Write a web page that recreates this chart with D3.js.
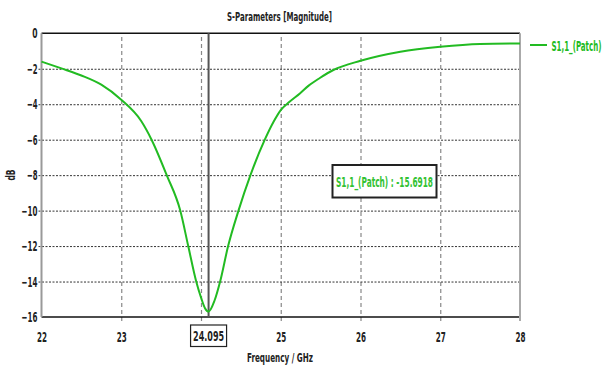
<!DOCTYPE html>
<html>
<head>
<meta charset="utf-8">
<script src="https://cdn.jsdelivr.net/npm/d3@7"></script>
<style>
  body { margin: 0; background: #fff; }
  svg { display: block; }
  text { font-family: "Liberation Sans Narrow", "DejaVu Sans Condensed", "Arial Narrow", sans-serif; }
</style>
</head>
<body>
<svg width="605" height="370"></svg>
<script>
// S11 of the patch (GHz, dB)
var freq = [22.0, 22.25, 22.5, 22.75, 23.0, 23.25, 23.38, 23.57, 23.74, 23.84, 23.94, 24.0, 24.05, 24.095,
            24.17, 24.24, 24.34, 24.47, 24.62, 24.80, 24.91, 25.0, 25.11, 25.24, 25.35, 25.49, 25.66, 26.0,
            26.5, 27.0, 27.5, 28.0];
var s11 = [-1.6, -1.98, -2.38, -2.9, -3.75, -4.95, -6.0, -8.0, -10.0, -12.0, -14.0, -14.9, -15.5, -15.69,
           -15.07, -14.0, -12.0, -10.0, -8.0, -6.0, -4.99, -4.33, -3.86, -3.39, -2.95, -2.52, -2.07, -1.55,
           -1.04, -0.76, -0.6, -0.57];
var xTicks = [22, 23, 25, 26, 27, 28];
var xGrid = [23, 24, 25, 26, 27];
var yTicks = [0, -2, -4, -6, -8, -10, -12, -14, -16];
var yGrid = [-2, -4, -6, -8, -10, -12, -14];
var markerF = 24.095;
var markerV = -15.6918;
var seriesName = "S1,1_(Patch)";

var green = "#22bb22";

var svg = d3.select("svg"),
    pLeft = 41.5, pRight = 520, pTop = 33.3, pBottom = 317;

var x = d3.scaleLinear().domain([22, 28]).range([pLeft, pRight]);
var y = d3.scaleLinear().domain([-16, 0]).range([pBottom, pTop]);

// vertical grid (dashed), running a little under the bottom axis
var gx = svg.append("g")
    .attr("transform", "translate(0," + (pBottom + 4) + ")")
    .call(d3.axisBottom(x).tickValues(xGrid).tickSize(-(pBottom - pTop + 4)).tickFormat(""));
gx.select(".domain").remove();
gx.selectAll("line").attr("stroke", "#888").attr("stroke-width", 1.2).attr("stroke-dasharray", "4,3");

// horizontal grid (dotted)
var gy = svg.append("g")
    .attr("transform", "translate(" + (pLeft - 3) + ",0)")
    .call(d3.axisLeft(y).tickValues(yGrid).tickSize(-(pRight - pLeft + 3)).tickFormat(""));
gy.select(".domain").remove();
gy.selectAll("line").attr("stroke", "#333").attr("stroke-width", 1).attr("stroke-dasharray", "2,1.5");

// frame
svg.append("line").attr("x1", pLeft).attr("x2", pRight).attr("y1", pTop).attr("y2", pTop)
    .attr("stroke", "#111").attr("stroke-width", 1.5);
svg.append("line").attr("x1", pLeft).attr("x2", pRight).attr("y1", pBottom).attr("y2", pBottom)
    .attr("stroke", "#111").attr("stroke-width", 1.5);
svg.append("line").attr("x1", pLeft).attr("x2", pLeft).attr("y1", pTop).attr("y2", pBottom)
    .attr("stroke", "#999").attr("stroke-width", 2);
svg.append("line").attr("x1", pRight).attr("x2", pRight).attr("y1", pTop).attr("y2", pBottom + 4)
    .attr("stroke", "#aaa").attr("stroke-width", 2);

// marker line
svg.append("line").attr("x1", x(markerF)).attr("x2", x(markerF)).attr("y1", pTop).attr("y2", pBottom)
    .attr("stroke", "#555").attr("stroke-width", 2);

// curve
var pts = freq.map(function(f, i) { return [f, s11[i]]; });
var line = d3.line()
    .x(function(d) { return x(d[0]); })
    .y(function(d) { return y(d[1]); })
    .curve(d3.curveMonotoneX);
svg.append("path").datum(pts)
    .attr("d", line)
    .attr("fill", "none")
    .attr("stroke", green)
    .attr("stroke-width", 2);

// narrow the tick labels like the original
function squeeze(sel, perChar) {
  sel.attr("textLength", function() { return this.textContent.length * perChar; })
     .attr("lengthAdjust", "spacingAndGlyphs");
}

// tick labels
var ax = svg.append("g")
    .attr("transform", "translate(0," + pBottom + ")")
    .call(d3.axisBottom(x).tickValues(xTicks).tickSize(0).tickPadding(15).tickFormat(d3.format("d")));
ax.select(".domain").remove();
ax.selectAll("text").attr("font-family", null).attr("font-size", 14).attr("font-weight", "bold").attr("fill", "#222")
    .call(squeeze, 5);

var ay = svg.append("g")
    .attr("transform", "translate(" + (pLeft - 3) + ",0)")
    .call(d3.axisLeft(y).tickValues(yTicks).tickSize(0).tickPadding(1).tickFormat(d3.format("d")));
ay.select(".domain").remove();
ay.selectAll("text").attr("font-family", null).attr("font-size", 14).attr("font-weight", "bold").attr("fill", "#222")
    .call(squeeze, 5.3);

// boxed marker frequency on the x axis
var mx = x(markerF);
svg.append("rect").attr("x", mx - 18).attr("y", 325).attr("width", 36).attr("height", 21.5)
    .attr("fill", "#fff").attr("stroke", "#222").attr("stroke-width", 1.2);
svg.append("text").attr("x", mx).attr("y", 341).attr("text-anchor", "middle")
    .attr("font-size", 14).attr("font-weight", "bold").attr("fill", "#222")
    .attr("textLength", 31).attr("lengthAdjust", "spacingAndGlyphs")
    .text(markerF.toFixed(3));

// title and axis titles
svg.append("text").attr("x", 279.5).attr("y", 21).attr("text-anchor", "middle")
    .attr("font-size", 13).attr("font-weight", "bold").attr("fill", "#222")
    .attr("textLength", 105).attr("lengthAdjust", "spacingAndGlyphs")
    .text("S-Parameters [Magnitude]");
svg.append("text").attr("x", 280).attr("y", 362).attr("text-anchor", "middle")
    .attr("font-size", 13).attr("font-weight", "bold").attr("fill", "#222")
    .attr("textLength", 66).attr("lengthAdjust", "spacingAndGlyphs")
    .text("Frequency / GHz");
svg.append("text").attr("transform", "translate(15,175) rotate(-90)").attr("text-anchor", "middle")
    .attr("font-size", 12).attr("font-weight", "bold").attr("fill", "#222")
    .attr("textLength", 11).attr("lengthAdjust", "spacingAndGlyphs")
    .text("dB");

// legend (scaled horizontally so it stays inside the page edge)
svg.append("line").attr("x1", 530).attr("x2", 547).attr("y1", 45).attr("y2", 45)
    .attr("stroke", green).attr("stroke-width", 2);
var leg = svg.append("text")
    .attr("font-size", 14).attr("font-weight", "bold").attr("fill", green)
    .text(seriesName);
var legW = leg.node().getComputedTextLength();
leg.attr("transform", "translate(551.5,50.5) scale(" + (50 / legW) + ",1)");

// marker value box
svg.append("rect").attr("x", 332.5).attr("y", 165).attr("width", 104).attr("height", 32.5)
    .attr("fill", "#fff").attr("stroke", "#222").attr("stroke-width", 2);
svg.append("text").attr("x", 384.5).attr("y", 186.5).attr("text-anchor", "middle")
    .attr("font-size", 14).attr("font-weight", "bold").attr("fill", "#33c233")
    .attr("textLength", 97).attr("lengthAdjust", "spacingAndGlyphs")
    .text(seriesName + " : " + markerV.toFixed(4));
</script>
</body>
</html>
